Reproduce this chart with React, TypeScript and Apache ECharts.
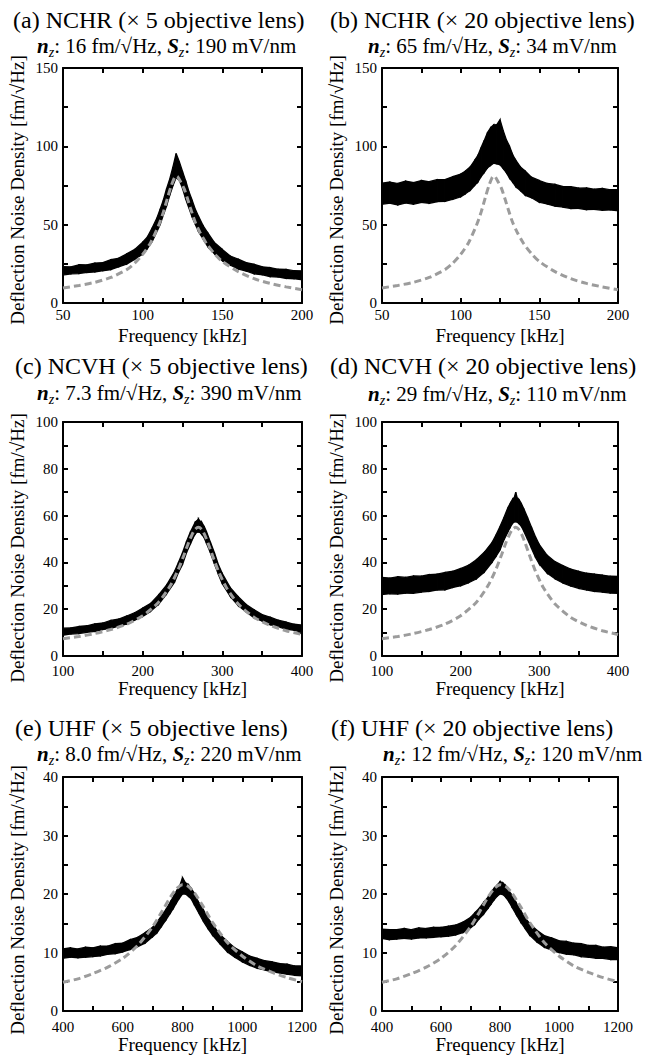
import React, { useEffect, useRef } from 'react';
import * as echarts from 'echarts';

const FONT = "'Liberation Serif', 'Times New Roman', Times, serif";

// ---------- Row 1 (NCHR): frequency in kHz ----------
const F1 = [50, 55, 60, 65, 70, 75, 80, 85, 90, 95, 100, 103, 106, 109, 111, 113, 115, 117, 119, 121, 123, 125, 127, 129, 131, 133, 135, 138, 141, 145, 150, 155, 160, 165, 170, 175, 180, 185, 190, 195, 200];
const aUpper = [23.2, 23.0, 24.4, 24.3, 25.5, 25.8, 27.6, 28.6, 31.4, 34.2, 38.8, 42.2, 48.0, 54.4, 60.0, 65.8, 73.0, 79.2, 86.8, 95.5, 90.2, 84.0, 78.0, 71.2, 65.8, 60.0, 55.5, 49.2, 44.6, 38.6, 34.2, 30.0, 28.0, 25.8, 24.7, 23.1, 22.6, 21.6, 21.4, 20.6, 20.5];
const aLower = [17.8, 18.6, 18.8, 19.5, 19.8, 20.6, 21.3, 23.1, 24.8, 27.9, 31.2, 34.8, 39.3, 45.7, 50.0, 56.2, 61.8, 68.7, 74.8, 80.0, 78.3, 73.2, 66.3, 60.7, 54.8, 50.2, 45.6, 40.7, 35.8, 31.5, 27.0, 24.2, 21.7, 20.4, 18.6, 18.0, 16.8, 16.6, 15.7, 15.5, 14.9];
const bUpper = [76.5, 77.2, 76.3, 77.8, 76.9, 78.2, 77.4, 78.7, 78.8, 80.7, 82.3, 84.2, 86.8, 91.2, 94.3, 99.2, 103.8, 108.7, 111.8, 113.7, 113.8, 117.0, 110.2, 104.3, 100.2, 94.8, 91.2, 86.8, 84.2, 80.3, 78.2, 76.3, 75.7, 74.3, 74.2, 73.3, 73.4, 72.6, 73.1, 72.3, 72.4];
const bLower = [63.0, 63.7, 62.6, 63.8, 63.0, 64.2, 63.6, 64.7, 64.8, 66.2, 67.8, 69.7, 71.8, 75.2, 77.3, 80.7, 83.3, 86.2, 87.8, 89.2, 88.8, 88.2, 85.8, 83.2, 79.8, 77.2, 74.3, 71.7, 68.8, 67.2, 64.3, 63.2, 61.8, 61.2, 60.3, 60.4, 59.6, 59.8, 59.2, 59.4, 58.8];
const G1 = [50, 60, 70, 80, 90, 95, 100, 105, 110, 113, 116, 118, 120, 121, 122, 124, 126, 128, 130, 133, 136, 140, 145, 150, 160, 170, 180, 190, 200];
const gray1 = [9.6, 11.2, 13.2, 16.3, 21.3, 25.4, 31, 38.5, 49.5, 58, 68.5, 75, 80, 81, 80.5, 77, 73, 67, 60.5, 51.5, 45, 38, 31.5, 26.5, 20, 15.5, 12.5, 10.3, 8.5];

// ---------- Row 2 (NCVH) ----------
const F2 = [100, 110, 120, 130, 140, 150, 160, 170, 180, 190, 200, 210, 220, 230, 240, 245, 250, 255, 260, 263, 266, 268, 270, 272, 274, 277, 280, 285, 290, 295, 300, 310, 320, 330, 340, 350, 360, 370, 380, 390, 400];
const cUpper = [11.9, 12.0, 12.6, 12.9, 13.7, 14.1, 15.2, 15.8, 17.1, 18.5, 20.5, 22.5, 26.1, 30.3, 36.1, 40.1, 44.1, 48.9, 53.1, 55.1, 57.3, 57.7, 58.6, 57.6, 57.2, 55.5, 53.2, 48.7, 44.2, 39.1, 35.2, 29.2, 25.3, 22.0, 19.7, 17.7, 16.6, 15.3, 14.5, 13.6, 13.2];
const cLower = [8.9, 9.4, 9.6, 10.1, 10.5, 11.3, 11.8, 12.8, 13.7, 15.3, 16.9, 19.1, 22.1, 26.5, 31.5, 35.7, 39.1, 44.1, 47.9, 50.3, 52.1, 52.9, 53.0, 52.8, 52.0, 50.7, 48.2, 44.1, 39.4, 34.9, 30.8, 25.4, 21.5, 18.8, 16.3, 14.9, 13.4, 12.5, 11.5, 11.0, 10.2];
const dUpper = [33.6, 33.3, 33.9, 33.6, 34.2, 34.1, 34.8, 35.0, 35.7, 36.2, 37.4, 38.8, 41.1, 44.3, 48.6, 51.8, 55.3, 59.2, 63.4, 65.2, 67.0, 67.6, 70.0, 67.4, 66.9, 65.3, 63.1, 59.2, 55.1, 51.0, 47.6, 43.0, 40.3, 38.6, 37.1, 36.2, 35.4, 35.0, 34.6, 34.1, 34.0];
const dLower = [26.3, 26.6, 26.5, 26.9, 26.8, 27.3, 27.6, 28.2, 28.3, 29.3, 30.0, 31.3, 33.0, 35.8, 40.1, 42.6, 45.3, 49.6, 53.0, 55.0, 56.7, 57.3, 57.4, 57.2, 56.6, 55.5, 53.5, 49.8, 46.0, 42.2, 39.3, 35.4, 33.0, 31.2, 29.9, 28.9, 28.2, 27.6, 27.3, 26.9, 26.8];
const G2 = [100, 120, 140, 160, 180, 200, 220, 235, 245, 252, 258, 262, 266, 270, 274, 278, 282, 288, 295, 305, 320, 340, 360, 380, 400];
const gray2 = [7.4, 8.3, 9.6, 11.3, 13.6, 17.2, 23, 30.2, 37.2, 43.3, 48.8, 51.9, 54.2, 55, 54.1, 51.7, 48.3, 42.6, 36.3, 29.3, 22.2, 16.5, 13.1, 10.8, 9.2];

// ---------- Row 3 (UHF) ----------
const F3 = [400, 425, 450, 475, 500, 525, 550, 575, 600, 625, 650, 675, 700, 715, 730, 745, 760, 770, 780, 790, 800, 810, 820, 830, 840, 855, 870, 885, 900, 925, 950, 975, 1000, 1025, 1050, 1075, 1100, 1125, 1150, 1175, 1200];
const eUpper = [10.6, 10.8, 10.6, 10.9, 10.8, 11.1, 11.1, 11.5, 11.6, 12.2, 12.6, 13.4, 14.3, 15.2, 16.3, 17.4, 18.7, 19.6, 20.5, 21.3, 22.8, 21.9, 21.6, 20.9, 20.1, 18.5, 17.3, 15.9, 14.8, 13.1, 11.9, 10.8, 10.1, 9.4, 9.0, 8.6, 8.4, 8.1, 8.0, 7.7, 7.7];
const eLower = [9.0, 9.2, 9.1, 9.2, 9.3, 9.4, 9.7, 9.8, 10.1, 10.5, 11.0, 11.6, 12.7, 13.4, 14.5, 15.6, 16.8, 17.6, 18.5, 19.3, 20.0, 20.0, 19.6, 19.1, 18.1, 16.7, 15.3, 14.1, 13.0, 11.5, 10.1, 9.2, 8.4, 7.8, 7.3, 7.0, 6.7, 6.5, 6.3, 6.1, 6.0];
const fUpper = [14.0, 13.9, 13.9, 14.1, 13.9, 14.2, 14.1, 14.3, 14.3, 14.5, 14.7, 15.2, 16.0, 16.8, 17.6, 18.6, 19.5, 20.3, 21.0, 21.5, 22.1, 21.9, 21.4, 20.6, 19.8, 18.5, 17.2, 15.9, 15.0, 13.8, 12.9, 12.5, 12.0, 11.9, 11.6, 11.5, 11.2, 11.2, 10.9, 11.0, 10.8];
const fLower = [12.4, 12.2, 12.3, 12.4, 12.3, 12.5, 12.5, 12.6, 12.7, 12.8, 13.0, 13.4, 14.2, 14.8, 15.8, 16.6, 17.6, 18.3, 19.0, 19.6, 20.0, 19.9, 19.4, 18.7, 17.8, 16.5, 15.2, 14.1, 13.0, 11.8, 10.9, 10.4, 10.0, 9.7, 9.6, 9.3, 9.2, 9.0, 9.0, 8.8, 8.8];
const G3 = [400, 450, 500, 550, 600, 650, 700, 730, 760, 780, 800, 820, 840, 870, 900, 950, 1000, 1050, 1100, 1150, 1200];
const gray3 = [4.9, 5.5, 6.4, 7.5, 9.0, 11.2, 14.4, 16.9, 19.5, 20.9, 21.6, 21.3, 20.2, 17.8, 15.2, 11.7, 9.4, 7.7, 6.6, 5.7, 5.0];

// ---------- Texts ----------
const titles = [
  '(a) NCHR (× 5 objective lens)',
  '(b) NCHR (× 20 objective lens)',
  '(c) NCVH (× 5 objective lens)',
  '(d) NCVH (× 20 objective lens)',
  '(e) UHF (× 5 objective lens)',
  '(f) UHF (× 20 objective lens)',
];
const noiseDensity = ['16', '65', '7.3', '29', '8.0', '12'];
const sensitivity = ['190', '34', '390', '110', '220', '120'];
const xName = 'Frequency [kHz]';
const yName = 'Deflection Noise Density [fm/√Hz]';

// axis ranges [min, max, label interval]
const xRanges = [[50, 200, 50], [50, 200, 50], [100, 400, 100], [100, 400, 100], [400, 1200, 200], [400, 1200, 200]];
const yRanges = [[0, 150, 50], [0, 150, 50], [0, 100, 20], [0, 100, 20], [0, 40, 10], [0, 40, 10]];

const panelData = [
  { f: F1, up: aUpper, lo: aLower, gf: G1, g: gray1 },
  { f: F1, up: bUpper, lo: bLower, gf: G1, g: gray1 },
  { f: F2, up: cUpper, lo: cLower, gf: G2, g: gray2 },
  { f: F2, up: dUpper, lo: dLower, gf: G2, g: gray2 },
  { f: F3, up: eUpper, lo: eLower, gf: G3, g: gray3 },
  { f: F3, up: fUpper, lo: fLower, gf: G3, g: gray3 },
];

// layout
const grids = [
  { left: 63, top: 68, width: 239, height: 235 },
  { left: 382, top: 68, width: 236, height: 235 },
  { left: 63, top: 422, width: 239, height: 234 },
  { left: 382, top: 422, width: 236, height: 234 },
  { left: 63, top: 777, width: 239, height: 235 },
  { left: 382, top: 777, width: 236, height: 235 },
];
const titlePos = [[13, 20], [330, 20], [15, 366], [330, 366], [15, 728], [331, 728]];
const subPos = [[37, 46], [368, 46], [37, 393], [368, 394], [37, 754], [383, 754]];
const yNameCenter = [190, 190, 548, 548, 900, 900];
const xNameGap = [23, 23, 22, 22, 24, 24];
const xLabelMargin = [4, 4, 7, 7, 8, 8];

function buildOption() {
  const axisLine = { show: true, onZero: false, lineStyle: { color: '#000', width: 2 } };
  const tick = { show: true, inside: true, length: 5, lineStyle: { color: '#000', width: 2 } };
  const minor = { show: true, splitNumber: 2, length: 5, lineStyle: { color: '#000', width: 2 } };
  const label = { color: '#000', fontFamily: FONT, fontSize: 15, formatter: (v: number) => String(v) };

  const xAxis: any[] = [];
  const yAxis: any[] = [];
  const series: any[] = [];
  const graphic: any[] = [];

  grids.forEach((g, i) => {
    const [xmin, xmax, xint] = xRanges[i];
    const [ymin, ymax, yint] = yRanges[i];
    xAxis.push({
      type: 'value', gridIndex: i, position: 'bottom', min: xmin, max: xmax, interval: xint,
      axisLine, axisTick: tick, minorTick: minor, splitLine: { show: false },
      axisLabel: { ...label, margin: xLabelMargin[i] },
      name: xName, nameLocation: 'middle', nameGap: xNameGap[i],
      nameTextStyle: { color: '#000', fontFamily: FONT, fontSize: 19 },
    });
    xAxis.push({
      type: 'value', gridIndex: i, position: 'top', min: xmin, max: xmax, interval: xint,
      axisLine, axisTick: tick, minorTick: minor, splitLine: { show: false }, axisLabel: { show: false },
    });
    yAxis.push({
      type: 'value', gridIndex: i, position: 'left', min: ymin, max: ymax, interval: yint,
      axisLine, axisTick: tick, minorTick: minor, splitLine: { show: false },
      axisLabel: { ...label, margin: 5, padding: [0, 0, 3, 0] },
    });
    yAxis.push({
      type: 'value', gridIndex: i, position: 'right', min: ymin, max: ymax, interval: yint,
      axisLine, axisTick: tick, minorTick: minor, splitLine: { show: false }, axisLabel: { show: false },
    });

    const p = panelData[i];
    // measured noise spectrum: filled band between lower and upper envelope
    series.push({
      type: 'custom', xAxisIndex: 2 * i, yAxisIndex: 2 * i, silent: true, z: 2,
      data: p.f.map((x, k) => [x, p.lo[k], p.up[k]]),
      encode: { x: 0, y: [1, 2] },
      renderItem: (params: any, api: any) => {
        const k = params.dataIndex;
        if (k >= p.f.length - 1) return null;
        const pts = [
          api.coord([p.f[k], p.up[k]]),
          api.coord([p.f[k + 1], p.up[k + 1]]),
          api.coord([p.f[k + 1], p.lo[k + 1]]),
          api.coord([p.f[k], p.lo[k]]),
        ];
        return {
          type: 'polygon',
          shape: { points: pts },
          style: { fill: '#000', stroke: '#000', lineWidth: 1.3 },
        };
      },
    });
    // theoretical thermal noise (gray dashed)
    series.push({
      type: 'line', xAxisIndex: 2 * i, yAxisIndex: 2 * i, symbol: 'none', smooth: 0.25,
      data: p.gf.map((x, k) => [x, p.g[k]]),
      lineStyle: { color: '#9c9c9c', width: 3, type: [7, 4] }, z: 3, silent: true,
    });

    graphic.push({
      type: 'text', x: titlePos[i][0], y: titlePos[i][1],
      style: {
        text: titles[i], fontSize: 24, fontFamily: FONT, fill: '#000',
        align: 'left', verticalAlign: 'middle', textAlign: 'left', textVerticalAlign: 'middle',
      },
    });
    graphic.push({
      type: 'text', x: subPos[i][0], y: subPos[i][1],
      style: {
        text: `{i|n}{s|z}{m|: ${noiseDensity[i]} fm/√Hz, }{i|S}{s|z}{m|: ${sensitivity[i]} mV/nm}`,
        fontSize: 21, fontFamily: FONT, fill: '#000',
        align: 'left', verticalAlign: 'middle', textAlign: 'left', textVerticalAlign: 'middle',
        rich: {
          m: { fontSize: 21, fontFamily: FONT, lineHeight: 27, verticalAlign: 'middle' },
          i: { fontSize: 21, fontFamily: FONT, fontStyle: 'italic', fontWeight: 'bold', lineHeight: 27, verticalAlign: 'middle' },
          s: { fontSize: 14, fontFamily: FONT, fontStyle: 'italic', lineHeight: 14, verticalAlign: 'bottom' },
        },
      },
    });
    graphic.push({
      type: 'text', x: g.left - 46, y: yNameCenter[i], rotation: Math.PI / 2,
      style: {
        text: yName, fontSize: 19, fontFamily: FONT, fill: '#000',
        align: 'center', verticalAlign: 'middle', textAlign: 'center', textVerticalAlign: 'middle',
      },
    });
  });

  return {
    animation: false,
    backgroundColor: '#fff',
    grid: grids.map((g) => ({ ...g, containLabel: false })),
    xAxis, yAxis, series, graphic,
  };
}

export default function App() {
  const ref = useRef<HTMLDivElement>(null);
  useEffect(() => {
    document.body.style.margin = '0';
    const chart = echarts.init(ref.current as HTMLDivElement, null, { renderer: 'svg', width: 650, height: 1055 });
    chart.setOption(buildOption() as any);
    return () => chart.dispose();
  }, []);
  return <div ref={ref} style={{ width: 650, height: 1055 }} />;
}
